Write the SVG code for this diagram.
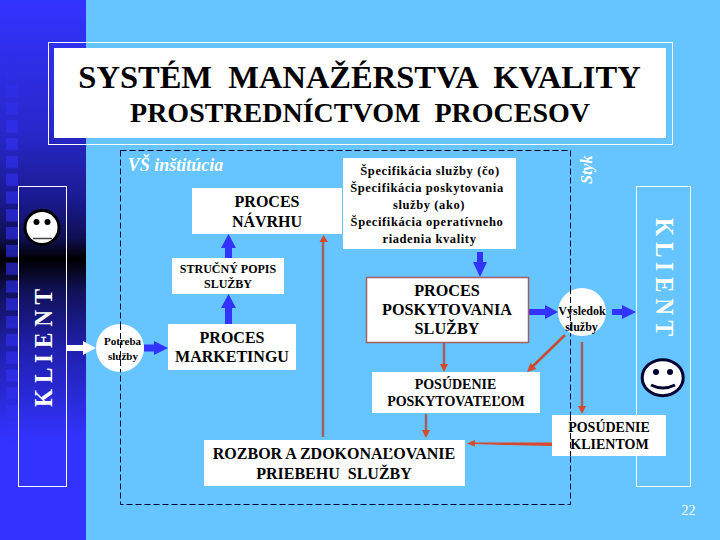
<svg xmlns="http://www.w3.org/2000/svg" width="720" height="540" viewBox="0 0 720 540">
<style>
text{font-family:"Liberation Serif","Times New Roman",serif;font-weight:bold;fill:#000;text-anchor:middle}
.box{fill:#fff}
.w{fill:#fff}
.blue{fill:#3333ff}
.red{stroke:#a0605f;stroke-width:2.500;fill:none}
.head{fill:#d9482b}
.frame{fill:none;stroke:#fff;stroke-width:1}
.dash{stroke:#000033;stroke-width:1;stroke-dasharray:6 3;fill:none}
text.light{fill:#fff}
</style>
<defs>
<linearGradient id="side" x1="0" y1="0" x2="0" y2="1">
<stop offset="0" stop-color="#3333ff"/><stop offset=".24" stop-color="#2828cc"/><stop offset=".37" stop-color="#1a1a90"/><stop offset=".44" stop-color="#0f0f55"/><stop offset=".48" stop-color="#000"/><stop offset=".54" stop-color="#11115a"/><stop offset=".65" stop-color="#2020b0"/><stop offset=".815" stop-color="#3333ff"/><stop offset="1" stop-color="#3333ff"/>
</linearGradient>
<linearGradient id="fade" x1="0" y1="0" x2="0" y2="1">
<stop offset="0" stop-color="#fff" stop-opacity="0"/><stop offset=".2" stop-color="#fff" stop-opacity=".5"/><stop offset=".5" stop-color="#fff" stop-opacity=".6"/><stop offset=".8" stop-color="#fff" stop-opacity=".5"/><stop offset="1" stop-color="#fff" stop-opacity="0"/>
</linearGradient>
<pattern id="squares" x="6" y="49" width="12" height="17.800" patternUnits="userSpaceOnUse"><rect width="12" height="12.300" fill="#3333ff"/></pattern>
<mask id="sqmask" maskUnits="userSpaceOnUse" x="0" y="40" width="30" height="430"><rect x="0" y="40" width="30" height="430" fill="url(#fade)"/></mask>
</defs>
<rect width="720" height="540" fill="#66c5ff"/>
<rect width="86" height="540" fill="url(#side)"/>
<rect x="6" y="49" width="12" height="418" fill="url(#squares)" mask="url(#sqmask)"/>
<g id="title">
<rect class="frame" x="48.500" y="42.500" width="624" height="102"/>
<rect class="box" x="54" y="48" width="612" height="90"/>
<text x="359.500" y="88" font-size="32.500" xml:space="preserve">SYSTÉM  MANAŽÉRSTVA  KVALITY</text>
<text x="360" y="122" font-size="28" xml:space="preserve">PROSTREDNÍCTVOM  PROCESOV</text>
</g>
<g id="klient-left">
<rect class="frame" x="18.500" y="186.500" width="48" height="300"/>
<circle cx="42" cy="227.500" r="17" fill="#fff" stroke="#000" stroke-width="3"/>
<circle cx="36.500" cy="222" r="3" fill="#000"/><circle cx="47.500" cy="222" r="3" fill="#000"/>
<path d="M33 238.500H52" stroke="#444" stroke-width="1.500"/>
<text class="light" transform="translate(52,407) rotate(-90) scale(1,1.120)" font-size="23.300" style="text-anchor:start">K L I E N T</text>
</g>
<g id="klient-right">
<rect class="frame" x="636.500" y="186.500" width="54" height="300"/>
<text class="light" transform="translate(656,218) rotate(90) scale(1,1.120)" font-size="23.300" style="text-anchor:start">K L I E N T</text>
<ellipse cx="662.700" cy="377.700" rx="20.500" ry="18" fill="#fff" stroke="#000033" stroke-width="3"/>
<circle cx="656" cy="372" r="3" fill="#000033"/><circle cx="670" cy="372" r="3" fill="#000033"/>
<path d="M651 385Q663 391 675 385" fill="none" stroke="#000033" stroke-width="3"/>
</g>
<rect id="institution" class="dash" x="120.500" y="150.500" width="450" height="354"/>
<text class="light" x="175.500" y="171" font-size="18" font-style="italic">VŠ inštitúcia</text>
<text class="light" transform="translate(592,184) rotate(-90)" font-size="16" font-style="italic" style="text-anchor:start">Styk</text>
<g id="connectors">
<g class="blue">
<path d="M225 258V248H221L228.500 234L236 248H232V258Z"/>
<path d="M225 324V308H221L228.500 294L236 308H232V324Z"/>
<path d="M144 344.500H154V341L168 348L154 355V351.500H144Z"/>
<path d="M477 252H483V262H487L480 277L473 262H477Z"/>
<path d="M528 309H545V305L558 312L545 319V315H528Z"/>
<path d="M612 309H622V305L636 312L622 319V315H612Z"/>
</g>
<path d="M66 345H83V341L96 348L83 355V351H66Z" class="w"/>
<g>
<path class="red" d="M323 437V240"/><path class="head" d="M323.500 235L328 242H319.500Z"/>
<path class="red" d="M444 342V366"/><path class="head" d="M444 372L440 364H448Z"/>
<path class="red" d="M426 414V431"/><path class="head" d="M426 438L422 430H430Z"/>
<path class="red" style="stroke:#c84a30" d="M565 335L531 368"/><path class="head" d="M527 372L530.500 363L536.500 369Z"/>
<path class="red" d="M582 342V408"/><path class="head" d="M582 414L578 406H586Z"/>
<path class="head" d="M552 442.500V446L505 445L475 444V446.500L467 443.500L475 440V442.500Z"/>
</g>
</g>
<g id="node-navrh"><rect class="box" x="192" y="188" width="150" height="46"/>
<text x="267" y="207" font-size="16">PROCES</text><text x="267" y="227" font-size="16">NÁVRHU</text></g>
<g id="node-spec"><rect class="box" x="343" y="158" width="173" height="91"/>
<g font-size="12.500" letter-spacing=".6"><text x="430" y="175">Špecifikácia služby (čo)</text><text x="427" y="192">Špecifikácia poskytovania</text><text x="429" y="209">služby (ako)</text><text x="427" y="226">Špecifikácia operatívneho</text><text x="429.500" y="243">riadenia kvality</text></g></g>
<g id="node-popis"><rect class="box" x="172" y="258" width="112" height="36"/>
<text x="228" y="273" font-size="12">STRUČNÝ POPIS</text><text x="228" y="288" font-size="12">SLUŽBY</text></g>
<g id="node-marketing"><rect class="box" x="168" y="324" width="128" height="46"/>
<text x="232" y="343" font-size="16">PROCES</text><text x="232" y="362" font-size="16">MARKETINGU</text></g>
<g id="node-potreba"><circle class="box" cx="120" cy="348" r="24"/>
<path class="dash" d="M120.500 324V372"/>
<text x="122.500" y="345" font-size="11">Potreba</text><text x="123" y="360" font-size="11">služby</text></g>
<g id="node-poskyt"><rect x="366.500" y="277.500" width="162" height="65" fill="#fff" stroke="#a0605f" stroke-width="1.500"/>
<g font-size="16.200"><text x="447" y="296">PROCES</text><text x="447" y="315">POSKYTOVANIA</text><text x="447" y="334">SLUŽBY</text></g></g>
<g id="node-vysledok"><circle class="box" cx="582" cy="312" r="24"/>
<path class="dash" d="M570.500 288V336"/>
<text x="582" y="315" font-size="12">Výsledok</text><text x="581.500" y="330.500" font-size="12">služby</text></g>
<g id="node-posudenie-p"><rect class="box" x="372" y="372" width="168" height="41"/>
<text x="455.500" y="389" font-size="14">POSÚDENIE</text><text x="456" y="406" font-size="14">POSKYTOVATEĽOM</text></g>
<g id="node-rozbor"><rect class="box" x="204" y="440" width="261" height="46"/>
<text x="334" y="459" font-size="16">ROZBOR A ZDOKONAĽOVANIE</text><text x="334" y="479" font-size="16" xml:space="preserve">PRIEBEHU  SLUŽBY</text></g>
<g id="node-posudenie-k"><rect class="box" x="552" y="415" width="114" height="41"/>
<path class="dash" d="M570.500 415V456"/>
<text x="609" y="432" font-size="14">POSÚDENIE</text><text x="609.500" y="449" font-size="14">KLIENTOM</text></g>
<text class="light" x="688.500" y="515" font-size="14" style="font-weight:normal">22</text>
</svg>
